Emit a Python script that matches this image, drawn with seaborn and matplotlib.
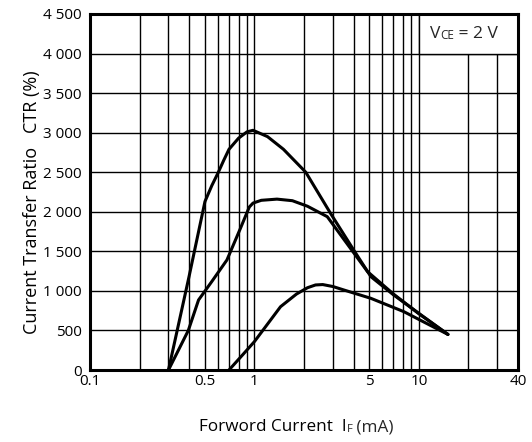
import matplotlib
matplotlib.use("Agg")
import matplotlib.pyplot as plt
import matplotlib.ticker as mticker
from matplotlib.patches import Rectangle
import numpy as np
import pandas as pd
import seaborn as sns

# ---- data ----
x_top = [0.3, 0.4, 0.5, 0.55, 0.6, 0.65, 0.7, 0.8, 0.9, 0.98, 1.2, 1.5, 2.05, 2.9, 4.0, 5.1, 7.0, 10, 15]
y_top = [0, 1180, 2130, 2330, 2490, 2650, 2790, 2930, 3010, 3030, 2950, 2790, 2500, 1980, 1520, 1180, 950, 715, 450]

x_mid = [0.3, 0.396, 0.457, 0.55, 0.68, 0.82, 0.93, 0.98, 1.1, 1.37, 1.7, 2.1, 2.77, 3.8, 4.87, 7.0, 10, 15]
y_mid = [0, 500, 885, 1118, 1391, 1787, 2060, 2110, 2145, 2160, 2140, 2070, 1938, 1548, 1243, 960, 710, 450]

x_low = [0.7, 0.85, 1.0, 1.2, 1.44, 1.8, 2.1, 2.35, 2.6, 3.0, 3.5, 5.1, 8.1, 11, 15]
y_low = [0, 195, 360, 580, 800, 960, 1040, 1075, 1080, 1055, 1011, 906, 737, 594, 450]

x_major = [0.1, 0.5, 1, 5, 10, 40]
x_major_labels = ["0.1", "0.5", "1", "5", "10", "40"]
x_minor = [0.2, 0.3, 0.4, 0.6, 0.7, 0.8, 0.9, 2, 3, 4, 6, 7, 8, 9, 20, 30]
y_ticks = [0, 500, 1000, 1500, 2000, 2500, 3000, 3500, 4000, 4500]
y_tick_labels = ["0", "500", "1 000", "1 500", "2 000", "2 500",
                 "3 000", "3 500", "4 000", "4 500"]

df = pd.concat([
    pd.DataFrame({"IF": x_top, "CTR": y_top, "curve": "top"}),
    pd.DataFrame({"IF": x_mid, "CTR": y_mid, "curve": "mid"}),
    pd.DataFrame({"IF": x_low, "CTR": y_low, "curve": "low"}),
])

sns.set_theme(style="white")
plt.rcParams["font.family"] = ["Open Sans", "DejaVu Sans"]

fig = plt.figure(figsize=(5.32, 4.42), dpi=100)
ax = fig.add_axes([90/532, 1-370/442, (518-90)/532, (370-14)/442])

sns.lineplot(data=df, x="IF", y="CTR", hue="curve", units="curve", estimator=None,
             palette={"top": "black", "mid": "black", "low": "black"},
             linewidth=2.2, legend=False, sort=False, ax=ax, zorder=3)

ax.set_xscale("log")
ax.set_xlim(0.1, 40)
ax.set_ylim(0, 4500)
ax.xaxis.set_major_locator(mticker.FixedLocator(x_major))
ax.xaxis.set_major_formatter(mticker.FixedFormatter(x_major_labels))
ax.xaxis.set_minor_locator(mticker.FixedLocator(x_minor))
ax.xaxis.set_minor_formatter(mticker.NullFormatter())
ax.set_yticks(y_ticks)
ax.set_yticklabels(y_tick_labels)
ax.tick_params(axis="both", which="both", length=0, labelsize=11, colors="black")
ax.tick_params(axis="x", pad=3)
ax.tick_params(axis="y", pad=6)

ax.set_axisbelow(True)
ax.grid(True, which="both", axis="x", color="black", linewidth=1.0)
ax.grid(True, which="major", axis="y", color="black", linewidth=1.0)
for s in ax.spines.values():
    s.set_visible(True)
    s.set_color("black")
    s.set_linewidth(2.2)
    s.set_zorder(5)

ax.set_xlabel("")
ax.set_ylabel("")

# white condition box
ax.add_patch(Rectangle((10, 4000), 30, 500, facecolor="white", edgecolor="black",
                       linewidth=1.0, zorder=1))
t1 = ax.text(11.6, 4250, "V", fontsize=12.5, va="center", ha="left", zorder=4)
t2 = ax.annotate("CE", xy=(1, 0), xycoords=t1, va="bottom", ha="left", fontsize=8.5, zorder=4)
t3 = ax.annotate(" = 2 V", xy=(1, 0), xycoords=t2, va="bottom", ha="left", fontsize=12.5, zorder=4)

# axis labels
fig.text(32/532, 1-202/442, "Current Transfer Ratio   CTR (%)", rotation=90,
         ha="center", va="center", fontsize=13, color="black")
l1 = fig.text(199/532, 1-427/442, "Forword Current  I", ha="left", va="center",
              fontsize=12.3, color="black")
l2 = ax.annotate("F", xy=(1, 0), xycoords=l1, va="bottom", ha="left", fontsize=8, annotation_clip=False)
l3 = ax.annotate(" (mA)", xy=(1, 0), xycoords=l2, va="bottom", ha="left", fontsize=12.3, annotation_clip=False)

fig.savefig("out.png", dpi=100)
